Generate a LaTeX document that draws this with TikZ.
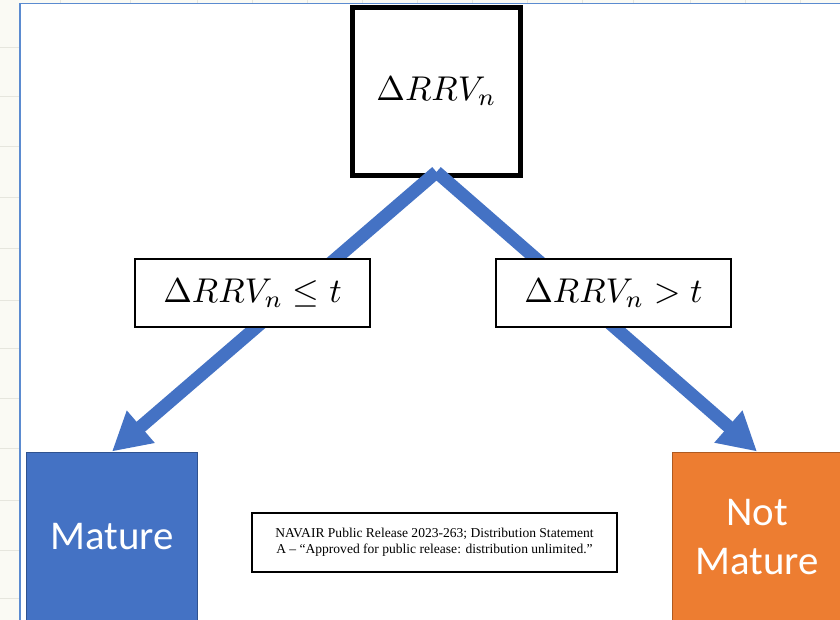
\documentclass[tikz,border=0pt]{standalone}
\usepackage{graphicx}
\usepackage{fontspec}
\newfontfamily\calibri{Carlito}
\newfontfamily\timesf{Liberation Serif}
\usetikzlibrary{arrows.meta}
\definecolor{offblue}{HTML}{4472C4}
\definecolor{offbluedark}{HTML}{2F528F}
\definecolor{offorange}{HTML}{ED7D31}
\definecolor{offorangedark}{HTML}{AE5A21}
\definecolor{bgcream}{HTML}{FAFAF4}
\definecolor{gridc}{HTML}{E6E6DE}
\definecolor{borderblue}{HTML}{5B8BD0}
\newcommand{\bigmath}[1]{\scalebox{3.45}{$#1$}}
\tikzset{
  topbox/.style={draw=black, line width=5bp, fill=white, minimum width=168bp, minimum height=168bp, inner sep=0pt},
  condbox/.style={draw=black, line width=1.5bp, fill=white, minimum width=235bp, minimum height=68bp, inner sep=0pt},
  leafbox/.style={line width=1bp, minimum width=170bp, minimum height=170bp, inner sep=0pt, text=white, align=center, font=\calibri\fontsize{41}{50}\selectfont},
  relbox/.style={draw=black, line width=2bp, fill=white, minimum width=365bp, minimum height=59bp, inner sep=0pt, align=center, font=\timesf\fontsize{13.6}{16}\selectfont},
  bigarrow/.style={draw=offblue, line width=13bp, -{Triangle[width=40bp,length=38bp]}}
}
\begin{document}
\begin{tikzpicture}[x=1bp,y=-1bp]
\useasboundingbox (0,0) rectangle (840,620);
% background
\fill[bgcream] (0,0) rectangle (840,620);
\fill[white] (20,3.5) rectangle (840,620);
\foreach \yy in {48,97,147,198,248,300,348,398,448,500,550,598}
  \draw[gridc, line width=1bp] (0,\yy) -- (19,\yy);
\foreach \xx in {60,130,197,252,307,362,417,472,527,582,633,690,745,800}
  \draw[gridc, line width=1bp] (\xx,0) -- (\xx,3);
\draw[borderblue, line width=1.5bp] (20,620) -- (20,3.5) -- (840,3.5);
% nodes
\node[topbox] (top) at (436.5,91.5) {\bigmath{\Delta RRV_n}};
\coordinate (apex) at (436.5,172);
\node[leafbox, fill=offblue, draw=offbluedark] (mature) at (112,537) {Mature};
\node[leafbox, fill=offorange, draw=offorangedark] (notmature) at (757,537) {Not\\Mature};
% arrows
\draw[bigarrow] (apex) -- (mature.north);
\draw[bigarrow] (apex) -- (notmature.north);
% condition labels
\node[condbox] (le) at (252.5,293) {\bigmath{\Delta RRV_n \le t}};
\node[condbox] (gt) at (613.5,293) {\bigmath{\Delta RRV_n > t}};
% release note
\node[relbox] (rel) at (434.5,542.5) {NAVAIR Public Release 2023-263; Distribution Statement\\A – “Approved for public release: distribution unlimited.”};
\end{tikzpicture}
\end{document}
